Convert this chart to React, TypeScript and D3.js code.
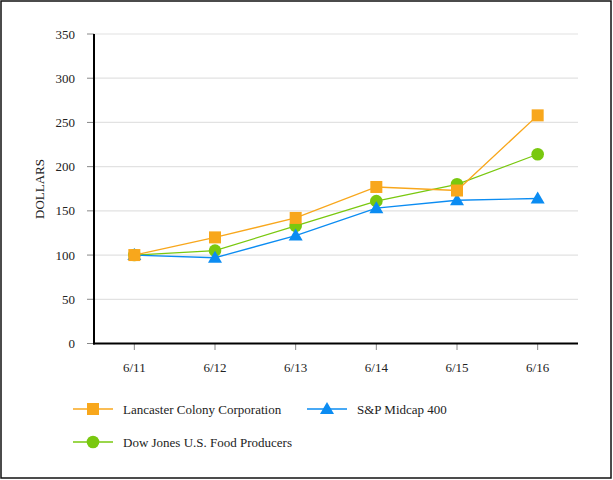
import React, { useEffect, useRef } from "react";
import * as d3 from "d3";

const periods = ["6/11", "6/12", "6/13", "6/14", "6/15", "6/16"];
const lancaster = [100, 120, 142, 177, 173, 258];
const dowJones = [100, 105, 133, 161, 180, 214];
const spMidcap = [100, 97, 122, 153, 162, 164];
const yTicks = [0, 50, 100, 150, 200, 250, 300, 350];

const series = [
  { name: "Dow Jones U.S. Food Producers", values: dowJones, color: "#79c80f", shape: "circle" },
  { name: "S&P Midcap 400", values: spMidcap, color: "#0b8cf2", shape: "triangle" },
  { name: "Lancaster Colony Corporation", values: lancaster, color: "#f8a71c", shape: "square" },
];

const legendOrder = [
  { idx: 2, x: 73, y: 409 },
  { idx: 1, x: 307, y: 409 },
  { idx: 0, x: 73, y: 442 },
];

function drawMarker(g, shape, color, x, y) {
  if (shape === "square") {
    g.append("rect").attr("x", x - 6).attr("y", y - 6).attr("width", 12).attr("height", 12).attr("fill", color);
  } else if (shape === "circle") {
    g.append("circle").attr("cx", x).attr("cy", y).attr("r", 6.3).attr("fill", color);
  } else {
    g.append("path")
      .attr("d", `M${x},${y - 7}L${x + 7},${y + 5}L${x - 7},${y + 5}Z`)
      .attr("fill", color);
  }
}

export default function App() {
  const ref = useRef(null);

  useEffect(() => {
    const svg = d3.select(ref.current);
    svg.selectAll("*").remove();

    const x = d3.scalePoint().domain(periods).range([94, 578]).padding(0.5);
    const y = d3.scaleLinear().domain([0, 350]).range([343.5, 34]);

    svg.append("rect")
      .attr("x", 1).attr("y", 1).attr("width", 610).attr("height", 477)
      .attr("fill", "white").attr("stroke", "#111").attr("stroke-width", 1.5);

    const g = svg.append("g").attr("font-family", "'Liberation Serif', 'Times New Roman', serif").attr("font-size", 13);

    // grid
    g.append("g").selectAll("line").data(yTicks.filter((t) => t > 0)).join("line")
      .attr("x1", 94).attr("x2", 578)
      .attr("y1", (d) => y(d)).attr("y2", (d) => y(d))
      .attr("stroke", "#e2e2e2").attr("stroke-width", 1.2);

    // y ticks and labels
    g.append("g").selectAll("line").data(yTicks).join("line")
      .attr("x1", 87).attr("x2", 94)
      .attr("y1", (d) => y(d)).attr("y2", (d) => y(d))
      .attr("stroke", "#888").attr("stroke-width", 1);
    g.append("g").selectAll("text").data(yTicks).join("text")
      .attr("x", 75).attr("y", (d) => y(d)).attr("dy", "0.35em")
      .attr("text-anchor", "end").attr("fill", "#222")
      .text((d) => d);

    // x ticks and labels
    g.append("g").selectAll("line").data(periods).join("line")
      .attr("x1", (d) => x(d)).attr("x2", (d) => x(d))
      .attr("y1", 343.5).attr("y2", 350)
      .attr("stroke", "#888").attr("stroke-width", 1);
    g.append("g").selectAll("text").data(periods).join("text")
      .attr("x", (d) => x(d)).attr("y", 367).attr("dy", "0.35em")
      .attr("text-anchor", "middle").attr("fill", "#222")
      .text((d) => d);

    // axes lines
    g.append("line").attr("x1", 94).attr("x2", 94).attr("y1", 34).attr("y2", 344.5)
      .attr("stroke", "#000").attr("stroke-width", 2);
    g.append("line").attr("x1", 93).attr("x2", 578).attr("y1", 343.5).attr("y2", 343.5)
      .attr("stroke", "#000").attr("stroke-width", 2);

    g.append("text")
      .attr("transform", "translate(39,189) rotate(-90)")
      .attr("text-anchor", "middle").attr("dy", "0.35em").attr("fill", "#222")
      .text("DOLLARS");

    const line = d3.line().x((d, i) => x(periods[i])).y((d) => y(d));

    series.forEach((s) => {
      const sg = g.append("g");
      sg.append("path").datum(s.values).attr("d", line)
        .attr("fill", "none").attr("stroke", s.color).attr("stroke-width", 1.3);
      s.values.forEach((v, i) => drawMarker(sg, s.shape, s.color, x(periods[i]), y(v)));
    });

    // legend
    legendOrder.forEach((l) => {
      const s = series[l.idx];
      const lg = g.append("g");
      lg.append("line").attr("x1", l.x).attr("x2", l.x + 40).attr("y1", l.y).attr("y2", l.y)
        .attr("stroke", s.color).attr("stroke-width", 1.5);
      drawMarker(lg, s.shape, s.color, l.x + 20, l.y);
      lg.append("text").attr("x", l.x + 50).attr("y", l.y).attr("dy", "0.35em").attr("fill", "#222")
        .text(s.name);
    });
  }, []);

  return (
    <svg ref={ref} width={613} height={480} style={{ position: "absolute", left: 0, top: 0 }} />
  );
}
